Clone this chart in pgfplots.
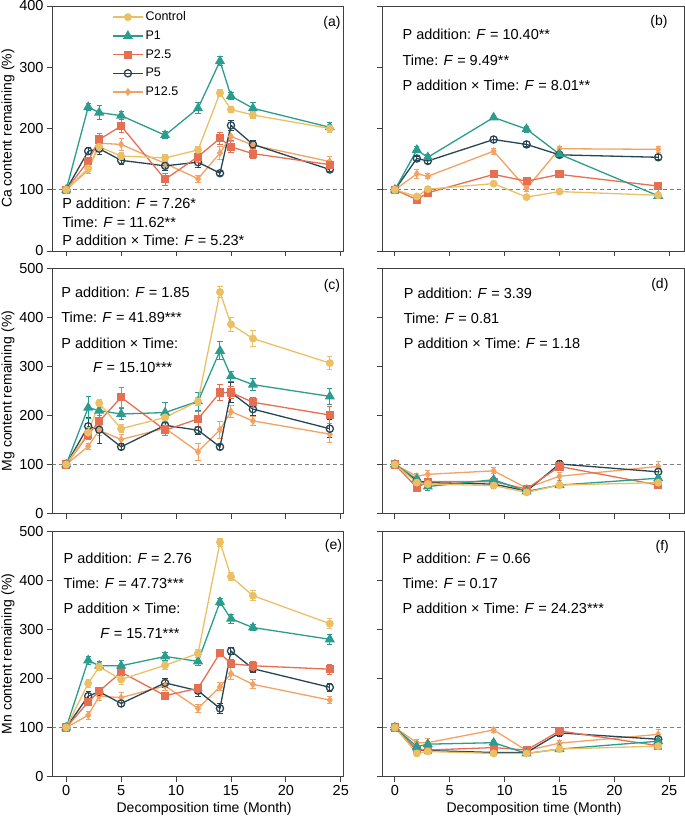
\documentclass[border=0pt]{standalone}
\usepackage{pgfplots}
\pgfplotsset{compat=1.18}
\usepackage{pgfplotstable}
\usepackage{fontspec}
\setmainfont{Liberation Sans}

\definecolor{cctrl}{HTML}{EBC064}
\definecolor{cpone}{HTML}{2A9D8F}
\definecolor{cptwo}{HTML}{E76F51}
\definecolor{cpfive}{HTML}{264653}
\definecolor{cptw}{HTML}{F4A261}

% columns: time, mean and error for Control, P1, P2.5, P5, P12.5
\pgfplotstableread{
t c ce p1 p1e p25 p25e p5 p5e p125 p125e
0 100 2 100 2 100 2 100 2 100 2
2 135 5 235 6 147 6 163 6 132 5
3 170 8 226 12 182 10 167 10 176 8
5 155 5 221 7 204 10 148 6 174 10
9 152 6 189 6 117 10 139 8 143 7
12 165 5 233 9 154 10 145 9 118 6
14 258 5 310 7 184 10 127 3 160 10
15 231 5 253 5 170 10 205 8 187 9
17 222 5 233 10 159 8 174 6 173 8
24 200 6 202 8 141 7 133 4 146 8
}\tabA
\pgfplotstableread{
t c ce p1 p1e p25 p25e p5 p5e p125 p125e
0 100 2 100 2 100 2 100 2 100 2
2 89 3 165 5 84 5 151 4 126 7
3 101 3 153 4 95 4 147 4 122 4
9 110 3 218 4 125 4 182 5 163 5
12 88 3 199 5 114 5 174 4 102 5
15 97 3 158 3 125 3 157 5 167 4
24 91 3 90 4 106 4 153 4 166 5
}\tabB
\pgfplotstableread{
t c ce p1 p1e p25 p25e p5 p5e p125 p125e
0 100 2 100 2 100 2 100 2 100 2
2 165 10 216 22 161 10 178 18 137 6
3 225 8 210 18 188 12 171 28 170 10
5 173 8 203 12 237 20 136 6 151 10
9 196 8 206 20 170 10 180 15 174 10
12 229 8 229 18 193 15 170 8 126 17
14 452 12 332 18 247 17 136 5 171 17
15 386 15 280 10 247 12 247 20 208 12
17 357 16 263 12 227 10 213 12 189 9
24 307 13 239 17 201 17 173 18 162 17
}\tabC
\pgfplotstableread{
t c ce p1 p1e p25 p25e p5 p5e p125 p125e
0 100 3 100 3 100 3 100 3 100 3
2 63 4 70 5 53 4 67 8 76 6
3 60 4 55 8 65 4 63 6 80 8
9 57 4 69 5 65 5 60 9 87 6
12 43 3 45 3 50 3 46 3 52 3
15 58 4 58 3 96 6 101 8 76 8
24 63 4 72 3 58 4 85 6 96 10
}\tabD
\pgfplotstableread{
t c ce p1 p1e p25 p25e p5 p5e p125 p125e
0 100 2 100 2 100 2 100 2 100 2
2 190 8 237 8 152 8 164 10 125 8
3 224 8 226 8 174 8 173 8 164 8
5 198 10 226 10 213 12 149 7 161 10
9 227 8 245 9 165 7 191 10 185 10
12 251 8 235 8 180 8 175 12 139 8
14 478 8 356 8 252 8 139 10 183 8
15 408 8 322 9 230 8 256 8 210 12
17 369 10 304 7 226 9 220 8 188 9
24 312 10 280 10 219 10 182 8 156 7
}\tabE
\pgfplotstableread{
t c ce p1 p1e p25 p25e p5 p5e p125 p125e
0 100 2 100 2 100 2 100 2 100 2
2 47 4 61 4 54 4 54 6 69 6
3 51 4 66 4 54 4 53 5 69 8
9 47 5 69 4 59 4 49 6 95 6
12 47 3 47 3 54 3 49 3 53 3
15 56 3 56 3 93 6 89 7 68 5
24 62 3 72 3 63 3 76 5 86 10
}\tabF

\tikzset{
  ann/.style={anchor=west, font=\fontsize{14.5}{16}\selectfont, inner sep=0pt},
  plab/.style={anchor=center, font=\fontsize{14}{16}\selectfont, inner sep=0pt},
}
\pgfplotsset{
  panel/.style={
    scale only axis, height=245pt,
    ymin=0,
    xtick={0,5,10,15,20,25},
    axis line style={draw=black!75, line width=0.9pt},
    tick style={draw=black!75, line width=0.9pt},
    tick align=outside, major tick length=5.5pt,
    xtick pos=bottom, ytick pos=left,
    ticklabel style={font=\fontsize{14.5}{16}\selectfont},
    label style={font=\fontsize{14}{16}\selectfont},
    /pgf/number format/assume math mode=true,
    every axis plot/.append style={line width=1.3pt},
    error bars/y dir=both, error bars/y explicit,
    error bars/error bar style={line width=1pt},
    error bars/error mark options={rotate=90, mark size=2.6pt, line width=1pt},
  },
  leftp/.style={panel, width=290.5pt, xmin=-1.25, xmax=25.2,
    ylabel style={at={(axis description cs:-0.153,0.5)}, anchor=center},
    xlabel style={at={(axis description cs:0.522,-0.133)}, anchor=center}},
  rightp/.style={panel, width=301.5pt, xmin=-1.13, xmax=26.35, yticklabels={},
    xlabel style={at={(axis description cs:0.503,-0.133)}, anchor=center}},
  sc/.style={cctrl, mark=*, mark size=3.3pt, mark options={solid}},
  sp1/.style={cpone, mark=triangle*, mark size=4.6pt},
  sp25/.style={cptwo, mark=square*, mark size=3.4pt},
  sp5/.style={cpfive, mark=o, mark size=3.6pt, mark options={fill=white}},
  sp125/.style={cptw, mark=diamond*, mark size=3pt},
}

\newcommand{\refline}{\draw[dash pattern=on 4pt off 3pt, black!50, line width=0.9pt]
  ({rel axis cs:0,0} |- {axis cs:0,100}) -- ({rel axis cs:1,0} |- {axis cs:0,100});}
\newcommand{\allseries}[1]{%
  \addplot[sp125] table[x=t, y=p125, y error=p125e] {#1};
  \addplot[sp5]   table[x=t, y=p5,   y error=p5e]   {#1};
  \addplot[sp25]  table[x=t, y=p25,  y error=p25e]  {#1};
  \addplot[sp1]   table[x=t, y=p1,   y error=p1e]   {#1};
  \addplot[sc]    table[x=t, y=c,    y error=ce]    {#1};
}

\begin{document}
\begin{tikzpicture}
\useasboundingbox (0pt,0pt) rectangle (685pt,819pt);

% (a)
\begin{axis}[leftp, at={(52.5pt,568pt)}, anchor=south west,
  ymax=400, ytick={0,100,...,400}, xticklabels={},
  ylabel={Ca content remaining (\%)},
  legend style={at={(axis description cs:0.205,0.985)}, anchor=north west,
    draw=none, fill=none, font=\fontsize{12.5}{14}\selectfont,
    row sep=4.5pt, inner sep=0pt},
  legend cell align=left,
  legend image code/.code={\draw[mark repeat=2,mark phase=2]
    plot coordinates {(0pt,0pt) (15pt,0pt) (30pt,0pt)};},
  reverse legend]
\refline
\allseries{\tabA}
\legend{P12.5,P5,P2.5,P1,Control}
\node[ann] at (axis description cs:0.033,0.196) {P addition: \textit{F} = 7.26*};
\node[ann] at (axis description cs:0.033,0.118) {Time: \textit{F} = 11.62**};
\node[ann] at (axis description cs:0.033,0.045) {P addition × Time: \textit{F} = 5.23*};
\node[plab] at (axis description cs:0.962,0.932) {(a)};
\end{axis}

% (b)
\begin{axis}[rightp, at={(382.5pt,568pt)}, anchor=south west,
  ymax=400, ytick={0,100,...,400}, xticklabels={}]
\refline
\allseries{\tabB}
\node[ann] at (axis description cs:0.066,0.884) {P addition: \textit{F} = 10.40**};
\node[ann] at (axis description cs:0.066,0.78) {Time: \textit{F} = 9.49**};
\node[ann] at (axis description cs:0.066,0.678) {P addition × Time: \textit{F} = 8.01**};
\node[plab] at (axis description cs:0.917,0.936) {(b)};
\end{axis}

% (c)
\begin{axis}[leftp, at={(52.5pt,305.5pt)}, anchor=south west,
  ymax=500, ytick={0,100,...,500}, xticklabels={},
  ylabel={Mg content remaining (\%)}]
\refline
\allseries{\tabC}
\node[ann] at (axis description cs:0.03,0.903) {P addition: \textit{F} = 1.85};
\node[ann] at (axis description cs:0.03,0.801) {Time: \textit{F} = 41.89***};
\node[ann] at (axis description cs:0.03,0.695) {P addition × Time:};
\node[ann] at (axis description cs:0.139,0.597) {\textit{F} = 15.10***};
\node[plab] at (axis description cs:0.962,0.929) {(c)};
\end{axis}

% (d)
\begin{axis}[rightp, at={(382.5pt,305.5pt)}, anchor=south west,
  ymax=500, ytick={0,100,...,500}, xticklabels={}]
\refline
\allseries{\tabD}
\node[ann] at (axis description cs:0.07,0.898) {P addition: \textit{F} = 3.39};
\node[ann] at (axis description cs:0.07,0.798) {Time: \textit{F} = 0.81};
\node[ann] at (axis description cs:0.07,0.693) {P addition × Time: \textit{F} = 1.18};
\node[plab] at (axis description cs:0.92,0.934) {(d)};
\end{axis}

% (e)
\begin{axis}[leftp, at={(52.5pt,42.5pt)}, anchor=south west,
  ymax=500, ytick={0,100,...,500},
  ylabel={Mn content remaining (\%)},
  xlabel={Decomposition time (Month)}]
\refline
\allseries{\tabE}
\node[ann] at (axis description cs:0.038,0.89) {P addition: \textit{F} = 2.76};
\node[ann] at (axis description cs:0.038,0.79) {Time: \textit{F} = 47.73***};
\node[ann] at (axis description cs:0.038,0.685) {P addition × Time:};
\node[ann] at (axis description cs:0.164,0.583) {\textit{F} = 15.71***};
\node[plab] at (axis description cs:0.967,0.942) {(e)};
\end{axis}

% (f)
\begin{axis}[rightp, at={(382.5pt,42.5pt)}, anchor=south west,
  ymax=500, ytick={0,100,...,500},
  xlabel={Decomposition time (Month)}]
\refline
\allseries{\tabF}
\node[ann] at (axis description cs:0.066,0.89) {P addition: \textit{F} = 0.66};
\node[ann] at (axis description cs:0.066,0.789) {Time: \textit{F} = 0.17};
\node[ann] at (axis description cs:0.066,0.685) {P addition × Time: \textit{F} = 24.23***};
\node[plab] at (axis description cs:0.928,0.938) {(f)};
\end{axis}
\end{tikzpicture}
\end{document}
